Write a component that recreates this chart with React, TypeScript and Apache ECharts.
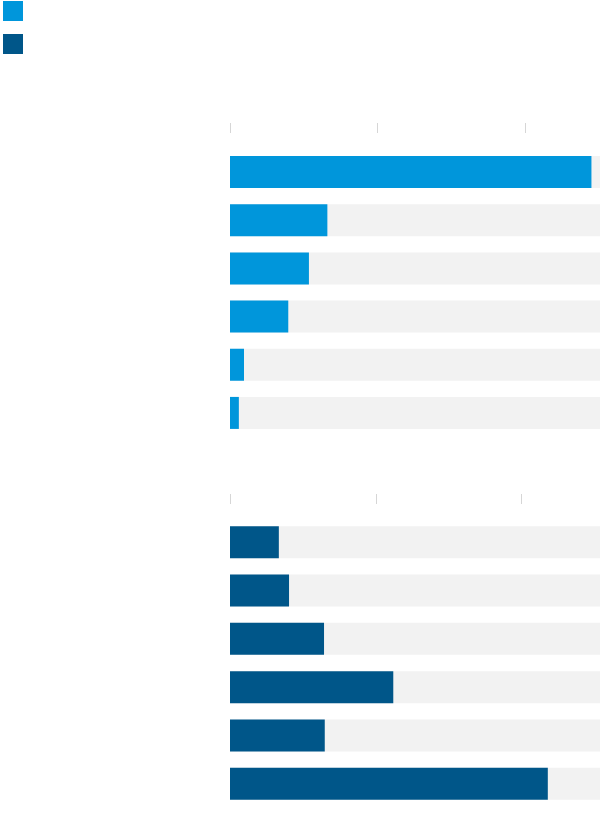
import React, { useEffect, useRef } from "react";
import * as echarts from "echarts";

const categoriesTop = ["A1", "A2", "A3", "A4", "A5", "A6"];
const valuesTop = [24.5, 6.6, 5.35, 3.95, 0.95, 0.6];
const categoriesBottom = ["B1", "B2", "B3", "B4", "B5", "B6"];
const valuesBottom = [3.35, 4.05, 6.45, 11.2, 6.5, 21.8];
const tickValues = [0, 10, 20];
const seriesNames = ["Series 1", "Series 2"];
const colorLight = "#0096db";
const colorDark = "#005689";
const trackColor = "#f2f2f2";
const tickColor = "#d6d6d6";

export default function App() {
  const ref = useRef<HTMLDivElement>(null);
  useEffect(() => {
    document.body.style.margin = "0";
    if (!ref.current) return;
    const chart = echarts.init(ref.current, null, { renderer: "svg" });
    const xAxisBase = {
      type: "value",
      position: "top",
      min: 0,
      offset: 15,
      axisLine: { show: false },
      axisTick: {
        show: true,
        length: 10,
        customValues: tickValues,
        lineStyle: { color: tickColor, width: 1 },
      },
      axisLabel: { show: false },
      splitLine: { show: false },
    };
    const yAxisBase = {
      type: "category",
      inverse: true,
      axisLine: { show: false },
      axisTick: { show: false },
      axisLabel: { show: false },
    };
    chart.setOption({
      animation: false,
      legend: {
        left: 3,
        top: 1,
        padding: 0,
        orient: "vertical",
        itemWidth: 20,
        itemHeight: 20,
        itemGap: 13,
        icon: "rect",
        formatter: () => "",
        selectedMode: false,
        data: seriesNames,
      },
      grid: [
        { left: 230, top: 148, right: 0, height: 289 },
        { left: 230, top: 518, right: 0, height: 290 },
      ],
      xAxis: [
        { ...xAxisBase, gridIndex: 0, max: 25.08 },
        { ...xAxisBase, gridIndex: 1, max: 25.38, offset: 14 },
      ],
      yAxis: [
        { ...yAxisBase, gridIndex: 0, data: categoriesTop },
        { ...yAxisBase, gridIndex: 1, data: categoriesBottom },
      ],
      series: [
        {
          name: seriesNames[0],
          type: "bar",
          xAxisIndex: 0,
          yAxisIndex: 0,
          data: valuesTop,
          barWidth: 32,
          itemStyle: { color: colorLight },
          showBackground: true,
          backgroundStyle: { color: trackColor },
        },
        {
          name: seriesNames[1],
          type: "bar",
          xAxisIndex: 1,
          yAxisIndex: 1,
          data: valuesBottom,
          barWidth: 32,
          itemStyle: { color: colorDark },
          showBackground: true,
          backgroundStyle: { color: trackColor },
        },
      ],
    });
    return () => chart.dispose();
  }, []);
  return <div ref={ref} style={{ width: 600, height: 822 }} />;
}
